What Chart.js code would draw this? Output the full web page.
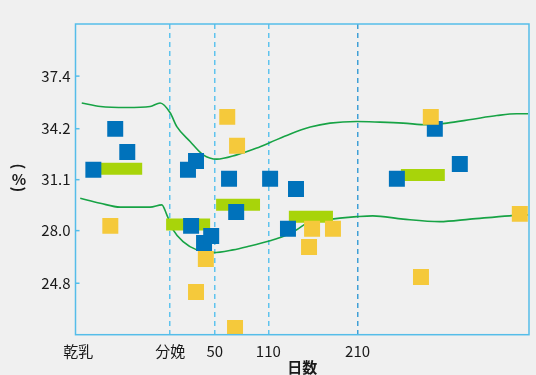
<!DOCTYPE html>
<html lang="ja">
<head>
  <meta charset="UTF-8" />
  <title>日数別の推移</title>
  <script src="https://cdn.jsdelivr.net/npm/chart.js"></script>
  <style>
    body {
      margin: 0;
      background: #f0f0f0;
    }
    .wrap {
      width: 536px;
      height: 375px;
    }
  </style>
</head>
<body>
  <div class="wrap">
    <canvas id="chart"></canvas>
  </div>

  <script>
    // x axis is days from calving; the dry-off point sits before 0
    const xTickValues = [-103, 0, 50, 110, 210];
    const xTickLabels = ['乾乳', '分娩', '50', '110', '210'];
    const yTickValues = [24.8, 28.0, 31.1, 34.2, 37.4];

    // individual measurements
    const blueX = [-86, -61.5, -48, 20, 29, 23.5, 38, 46, 66, 74, 112, 132, 141, 254, 296.5, 324.5];
    const blueY = [31.7, 34.19, 32.79, 31.7, 32.24, 28.29, 27.25, 27.68, 31.15, 29.14, 31.15, 28.11, 30.54, 31.15, 34.19, 32.06];

    const yellowX = [-67, 29, 40, 64, 75, 72.7, 155.6, 159, 182.4, 281, 292, 391.7];
    const yellowY = [28.29, 24.27, 26.28, 34.92, 33.16, 22.08, 27.01, 28.11, 28.11, 25.18, 34.92, 29.02];

    // group means: start day, end day, value
    const meanStart = [-80.5, -4.5, 51.5, 133, 258.5];
    const meanEnd = [-31.3, 44.8, 100.7, 182.4, 307.7];
    const meanValue = [31.76, 28.38, 29.57, 28.84, 31.39];

    // upper and lower reference band
    const bandX = [-99, -78, -48.5, -22.4, -11.2, 0, 7.5, 22.4, 37, 52.3, 74.6, 97, 112, 134, 157, 179, 209, 235, 261, 288, 310, 339, 366, 388, 401];
    const upperY = [35.76, 35.55, 35.49, 35.55, 35.76, 35.17, 34.33, 33.42, 32.61, 32.35, 32.61, 33.02, 33.36, 33.87, 34.30, 34.54, 34.64, 34.60, 34.54, 34.44, 34.54, 34.78, 35.00, 35.11, 35.11];
    const lowerX = [-100.7, -78.3, -56, -22.4, -9.3, -3.7, 3.4, 14.5, 29.9, 48.1, 70.5, 89.5, 112, 126.5, 141.8, 153, 168, 190, 209, 227, 261, 302, 336, 380, 401];
    const lowerY = [29.97, 29.67, 29.43, 29.43, 29.57, 28.96, 28.05, 27.33, 26.83, 26.66, 26.83, 27.07, 27.39, 27.64, 28.05, 28.45, 28.61, 28.76, 28.85, 28.90, 28.70, 28.55, 28.70, 28.90, 28.96];

    const FONT = '"Noto Sans CJK JP", "Noto Sans", sans-serif';
    const pts = (xs, ys) => xs.map((x, i) => ({ x: x, y: ys[i] }));

    const squareStyle = {
      showLine: false,
      pointStyle: 'rect',
      pointRadius: 11.3,
      borderWidth: 0
    };

    const bandStyle = {
      showLine: true,
      borderColor: '#17a345',
      borderWidth: 1.6,
      pointRadius: 0,
      tension: 0.4,
      cubicInterpolationMode: 'monotone',
      order: 3
    };

    const datasets = [
      Object.assign({ data: pts(yellowX, yellowY), backgroundColor: '#f5c93b', order: 0 }, squareStyle),
      Object.assign({ data: pts(blueX, blueY), backgroundColor: '#0072bb', order: 1 }, squareStyle),
      Object.assign({ data: pts(bandX, upperY) }, bandStyle),
      Object.assign({ data: pts(lowerX, lowerY) }, bandStyle)
    ];
    meanValue.forEach((v, i) => {
      datasets.push({
        data: [{ x: meanStart[i], y: v }, { x: meanEnd[i], y: v }],
        showLine: true,
        borderColor: '#a8d40a',
        borderWidth: 12,
        borderCapStyle: 'butt',
        pointRadius: 0,
        order: 2
      });
    });

    // frame, inward y ticks and the vertical unit label
    const framePlugin = {
      id: 'frame',
      afterDraw(chart) {
        const { ctx, chartArea: a, scales } = chart;
        ctx.save();
        ctx.strokeStyle = '#55bde9';
        ctx.lineWidth = 1.5;
        ctx.strokeRect(a.left, a.top, a.right - a.left, a.bottom - a.top);
        scales.y.ticks.forEach(t => {
          const py = scales.y.getPixelForValue(t.value);
          ctx.beginPath();
          ctx.moveTo(a.left, py);
          ctx.lineTo(a.left + 4, py);
          ctx.stroke();
        });
        // "(%)" written top to bottom: parentheses turned, % upright
        const mid = (a.top + a.bottom) / 2;
        ctx.fillStyle = '#1a1a1a';
        ctx.font = 'bold 15px ' + FONT;
        ctx.textAlign = 'center';
        ctx.textBaseline = 'middle';
        ctx.fillText('%', 19, mid);
        [['(', mid - 13], [')', mid + 10]].forEach(([s, py]) => {
          ctx.save();
          ctx.translate(19, py);
          ctx.rotate(Math.PI / 2);
          ctx.fillText(s, 0, 0);
          ctx.restore();
        });
        ctx.restore();
      }
    };

    new Chart(document.getElementById('chart'), {
      type: 'scatter',
      data: { datasets: datasets },
      plugins: [framePlugin],
      options: {
        responsive: true,
        maintainAspectRatio: false,
        animation: false,
        events: [],
        layout: { autoPadding: false, padding: { top: 24, right: 7, left: 0, bottom: 0 } },
        plugins: {
          legend: { display: false },
          tooltip: { enabled: false }
        },
        scales: {
          x: {
            type: 'linear',
            min: -106,
            max: 402,
            afterBuildTicks: s => { s.ticks = xTickValues.map(v => ({ value: v })); },
            afterFit: s => { s.height = 40.3; },
            ticks: {
              autoSkip: false,
              maxRotation: 0,
              padding: 8,
              color: '#1a1a1a',
              font: { family: FONT, size: 15 },
              callback: (v, i) => xTickLabels[i]
            },
            grid: {
              drawTicks: false,
              lineWidth: 1.5,
              color: c => c.index === 0 ? 'rgba(0,0,0,0)' : (c.index === 4 ? '#3f9fd6' : '#5fc3ee')
            },
            border: { display: false, dash: [5, 4] },
            title: {
              display: true,
              text: '日数',
              color: '#1a1a1a',
              padding: 0,
              font: { family: FONT, size: 15, weight: 'bold', lineHeight: 1 }
            }
          },
          y: {
            type: 'linear',
            min: 21.67,
            max: 40.57,
            afterBuildTicks: s => { s.ticks = yTickValues.map(v => ({ value: v })); },
            afterFit: s => { s.width = 75.5; },
            ticks: {
              padding: 5,
              color: '#1a1a1a',
              font: { family: FONT, size: 15 },
              callback: v => v.toFixed(1)
            },
            grid: { display: false, drawTicks: false },
            border: { display: false }
          }
        }
      }
    });
  </script>
</body>
</html>
